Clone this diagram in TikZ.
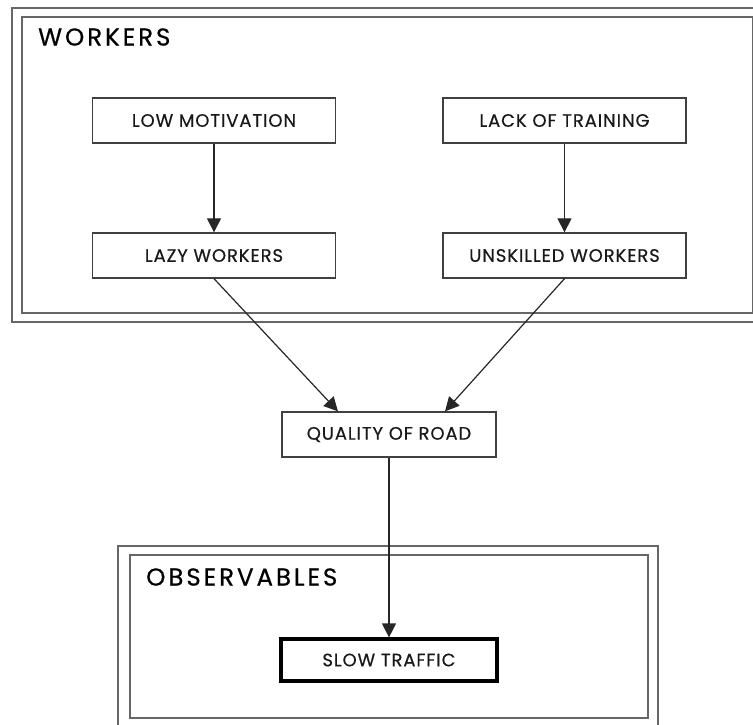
\documentclass[tikz,border=0pt]{standalone}
\usepackage{fontspec}
\setmainfont{Poppins}
\newfontfamily\boxfont[LetterSpace=5,FakeBold=0.4]{Poppins}
\newfontfamily\titlefont[LetterSpace=12,FakeBold=0.6]{Poppins}
\usetikzlibrary{arrows.meta}
\begin{document}
\begin{tikzpicture}[x=1pt,y=-1pt,
  frame/.style={draw=black!60, line width=1.5pt},
  box/.style={draw=black!75, line width=1.3pt, fill=white, minimum width=243pt, minimum height=45pt, inner sep=0pt, font=\boxfont\fontsize{18}{20}\selectfont, text=black!90},
  obsbox/.style={box, draw=black, line width=3.2pt, minimum width=216pt, minimum height=42pt},
  title/.style={anchor=west, font=\titlefont\fontsize{24.5}{26}\selectfont, inner sep=0pt, text=black},
  arr/.style={-{Triangle[length=14pt,width=14pt]}, line width=1.2pt, draw=black!85}]
\useasboundingbox (0,0) rectangle (753,724);
\begin{scope}
\clip (0,0) rectangle (753,724);
\draw[frame] (12,8) rectangle (770,322);
\draw[frame] (22,17) rectangle (753,313);
\draw[frame] (118,546) rectangle (658,740);
\draw[frame] (130,555) rectangle (648,718);
\end{scope}
\node[title] (tw) at (38,37) {WORKERS};
\node[title] (to) at (146,577) {OBSERVABLES};
\node[box] (low) at (214,120.5) {LOW MOTIVATION};
\node[box] (lack) at (564.5,120.5) {LACK OF TRAINING};
\node[box] (lazy) at (214,255.5) {LAZY WORKERS};
\node[box] (unsk) at (564.5,255.5) {UNSKILLED WORKERS};
\node[box, minimum width=214pt] (qual) at (389,434.5) {QUALITY OF ROAD};
\node[obsbox] (slow) at (389,660) {SLOW TRAFFIC};
\draw[arr] (low) -- (lazy);
\draw[arr] (lack) -- (unsk);
\draw[arr] (lazy.south) -- (qual.north -| 338,0);
\draw[arr] (unsk.south) -- (qual.north -| 445,0);
\draw[arr] (qual) -- (slow);
\end{tikzpicture}
\end{document}
